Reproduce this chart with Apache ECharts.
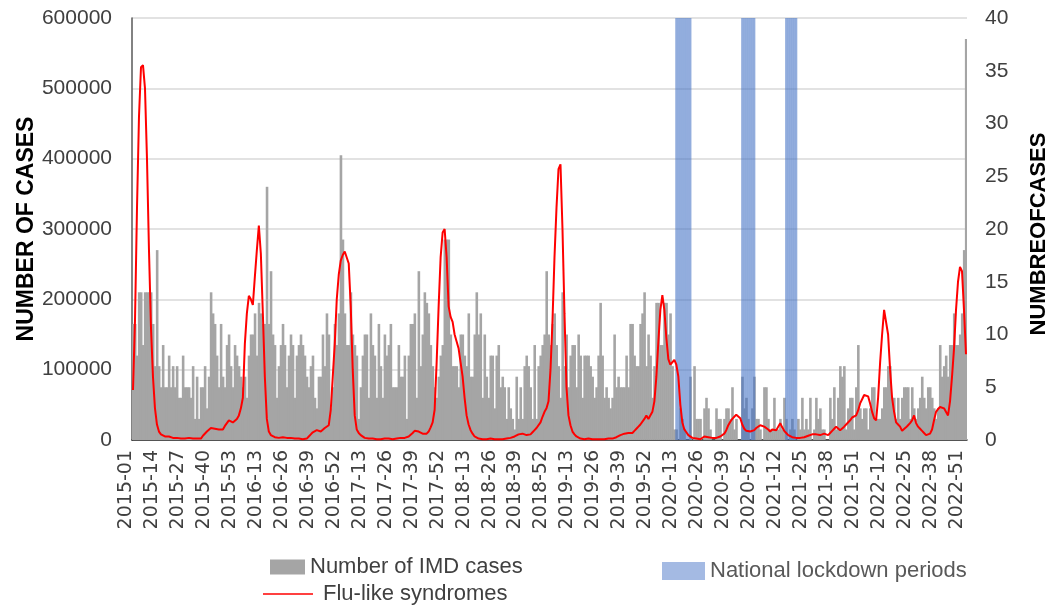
<!DOCTYPE html>
<html>
<head>
<meta charset="utf-8">
<script src="https://cdn.jsdelivr.net/npm/echarts@6/dist/echarts.min.js"></script>
<style>
  html, body { margin: 0; padding: 0; background: #fff; overflow: hidden; }
  #main { width: 1051px; height: 609px; }
</style>
</head>
<body>
<div id="main"></div>
<script>
// ISO weeks per year
var years = [2015, 2016, 2017, 2018, 2019, 2020, 2021, 2022];
var weeksPerYear = [53, 52, 52, 52, 52, 53, 52, 52];

// weekly number of IMD cases (right axis)
var imd2015 = [11, 11, 8, 14, 14, 9, 14, 14, 14, 14, 11, 7, 18, 7, 5, 9, 5, 5, 8, 5, 7, 5, 7, 4, 4, 8, 5, 5, 5, 4, 7, 2, 6, 2, 5, 5, 7, 3, 6, 14, 12, 11, 8, 5, 11, 6, 5, 9, 10, 7, 5, 9, 8];
var imd2016 = [7, 6, 5, 6, 4, 8, 10, 10, 12, 8, 13, 12, 11, 11, 24, 11, 16, 10, 9, 4, 7, 9, 11, 9, 5, 8, 10, 9, 4, 8, 9, 10, 9, 8, 6, 5, 7, 8, 4, 3, 6, 6, 10, 7, 12, 10, 3, 5, 11, 9, 12, 27];
var imd2017 = [19, 12, 9, 9, 14, 10, 9, 8, 2, 5, 8, 10, 10, 4, 12, 9, 8, 4, 11, 7, 4, 10, 8, 9, 11, 5, 5, 5, 9, 6, 6, 8, 2, 8, 11, 11, 12, 4, 16, 7, 10, 14, 13, 12, 9, 7, 5, 4, 6, 8, 9, 19];
var imd2018 = [19, 19, 10, 7, 7, 7, 5, 10, 10, 8, 7, 12, 6, 6, 10, 14, 10, 12, 4, 10, 6, 4, 8, 8, 3, 8, 9, 5, 6, 5, 2, 5, 3, 2, 1, 6, 2, 5, 2, 7, 8, 7, 5, 2, 9, 2, 7, 8, 9, 10, 16, 10];
var imd2019 = [9, 11, 12, 9, 7, 4, 14, 7, 10, 5, 8, 9, 9, 5, 10, 8, 4, 8, 8, 8, 7, 6, 4, 5, 8, 13, 8, 4, 5, 4, 3, 4, 10, 5, 6, 5, 5, 5, 8, 5, 11, 11, 8, 7, 7, 11, 12, 14, 7, 10, 8, 4];
var imd2020 = [7, 13, 13, 9, 9, 13, 13, 10, 12, 7, 1, 1, 0, 3, 2, 1, 0, 0, 6, 0, 7, 2, 2, 2, 0, 3, 4, 3, 1, 0, 0, 3, 2, 2, 0, 2, 3, 3, 2, 5, 1, 2, 0, 0, 6, 3, 4, 2, 0, 3, 6, 2, 2];
var imd2021 = [1, 0, 5, 5, 2, 1, 1, 4, 1, 1, 2, 1, 4, 2, 0, 1, 2, 1, 0, 2, 1, 4, 1, 2, 1, 4, 0, 1, 4, 2, 3, 1, 1, 0, 0, 4, 2, 5, 1, 4, 7, 6, 7, 1, 3, 4, 4, 1, 5, 9, 3, 2];
var imd2022 = [3, 3, 1, 3, 5, 5, 2, 2, 2, 3, 5, 5, 7, 7, 4, 4, 2, 4, 2, 4, 5, 5, 5, 2, 5, 3, 2, 3, 4, 6, 4, 3, 5, 5, 4, 3, 2, 3, 9, 6, 7, 8, 6, 9, 9, 12, 9, 9, 10, 12, 18, 38];

// weekly flu-like syndromes (left axis)
var flu2015 = [71000, 170000, 330000, 460000, 530000, 533000, 500000, 400000, 270000, 160000, 90000, 45000, 22000, 12000, 8000, 6000, 5000, 4000, 5000, 4000, 3000, 4000, 3000, 3000, 2000, 3000, 2000, 2000, 3000, 2000, 2000, 1000, 2000, 1000, 2000, 6000, 8000, 12000, 13000, 17000, 19000, 16000, 14000, 15000, 13000, 15000, 20000, 24000, 28000, 27000, 25000, 24000, 30000];
var flu2016 = [35000, 45000, 60000, 137000, 180000, 205000, 200000, 192000, 232000, 270000, 305000, 265000, 180000, 90000, 30000, 12000, 7000, 5000, 4000, 4000, 3000, 3000, 4000, 3000, 3000, 2000, 3000, 2000, 2000, 1000, 2000, 2000, 1000, 2000, 2000, 5000, 8000, 11000, 13000, 14000, 13000, 12000, 14000, 17000, 19000, 21000, 43000, 90000, 137000, 200000, 235000, 255000];
var flu2017 = [263000, 268000, 268000, 251000, 190000, 100000, 35000, 15000, 10000, 7000, 5000, 3000, 2000, 2000, 1000, 2000, 1000, 1000, 2000, 1000, 2000, 2000, 3000, 2000, 2000, 1000, 2000, 2000, 2000, 3000, 2000, 3000, 4000, 5000, 7000, 10000, 13000, 13000, 12000, 12000, 9000, 7000, 9000, 12000, 18000, 25000, 43000, 110000, 190000, 260000, 295000, 300000];
var flu2018 = [260000, 190000, 175000, 168000, 150000, 140000, 130000, 110000, 90000, 60000, 35000, 22000, 14000, 9000, 5000, 3000, 2000, 2000, 1000, 2000, 1000, 1000, 2000, 1000, 1000, 2000, 1000, 2000, 1000, 1000, 2000, 2000, 3000, 4000, 5000, 7000, 8000, 8000, 9000, 8000, 7000, 7000, 8000, 11000, 14000, 17000, 19000, 25000, 33000, 40000, 45000, 55000];
var flu2019 = [100000, 170000, 260000, 330000, 385000, 392000, 300000, 180000, 75000, 35000, 21000, 12000, 8000, 5000, 3000, 2000, 2000, 1000, 1000, 2000, 1000, 1000, 2000, 1000, 1000, 1000, 2000, 1000, 1000, 2000, 2000, 2000, 3000, 4000, 5000, 7000, 8000, 9000, 9000, 10000, 9000, 10000, 13000, 16000, 19000, 22000, 24000, 30000, 35000, 30000, 28000, 40000];
var flu2020 = [55000, 90000, 140000, 185000, 206000, 185000, 145000, 115000, 107000, 109000, 114000, 107000, 90000, 50000, 25000, 15000, 11000, 7000, 5000, 3000, 2000, 2000, 1000, 1000, 2000, 5000, 6000, 4000, 4000, 3000, 3000, 3000, 4000, 5000, 7000, 9000, 14000, 21000, 26000, 30000, 33000, 36000, 38000, 31000, 22000, 16000, 13000, 12000, 12000, 12000, 14000, 17000, 19000];
var flu2021 = [21000, 20000, 19000, 17000, 15000, 12000, 15000, 17000, 14000, 12000, 24000, 18000, 13000, 10000, 7000, 5000, 4000, 4000, 3000, 2000, 3000, 3000, 4000, 5000, 6000, 7000, 8000, 9000, 8000, 7000, 7000, 8000, 9000, 8000, 7000, 10000, 13000, 16000, 19000, 17000, 14000, 16000, 19000, 22000, 24000, 28000, 32000, 34000, 35000, 42000, 52000, 58000];
var flu2022 = [64000, 66000, 62000, 52000, 40000, 31000, 28000, 60000, 110000, 150000, 185000, 187000, 150000, 100000, 60000, 40000, 25000, 22000, 19000, 13000, 15000, 18000, 21000, 24000, 28000, 35000, 24000, 19000, 16000, 13000, 10000, 7000, 7000, 9000, 15000, 28000, 40000, 44000, 47000, 45000, 45000, 47000, 35000, 55000, 90000, 130000, 185000, 225000, 246000, 240000, 185000, 122000];

// national lockdown periods (first and last week), drawn full height
var lockdownPeriods = [["2020-12", "2020-19"], ["2020-45", "2020-51"], ["2021-14", "2021-19"]];
var lockdownHeight = 40;

var categories = [];
years.forEach(function(y, k) {
  for (var w = 1; w <= weeksPerYear[k]; w++) {
    categories.push(y + "-" + (w < 10 ? "0" + w : "" + w));
  }
});

var imdCases = [].concat(imd2015, imd2016, imd2017, imd2018, imd2019, imd2020, imd2021, imd2022);
var fluCases = [].concat(flu2015, flu2016, flu2017, flu2018, flu2019, flu2020, flu2021, flu2022);
var lockdownData = categories.map(function(c) {
  var inside = lockdownPeriods.some(function(p) { return c >= p[0] && c <= p[1]; });
  return inside ? lockdownHeight : "-";
});

var font = "Liberation Sans, Arial, sans-serif";
var myChart = echarts.init(document.getElementById("main"));
var option = {
  animation: false,
  backgroundColor: "#ffffff",
  grid: { left: 132, right: 84, top: 18, bottom: 169, outerBoundsMode: "none", containLabel: false },
  graphic: [
    {
      type: "text", x: 27, y: 229, rotation: Math.PI / 2,
      style: {
        text: "NUMBER OF CASES", fill: "#000",
        font: "bold 23px Liberation Sans, Arial, sans-serif",
        align: "center", verticalAlign: "middle"
      }
    },
    {
      type: "text", x: 1039, y: 234, rotation: Math.PI / 2,
      style: {
        text: "NUMBREOFCASES", fill: "#000",
        font: "bold 22px Liberation Sans, Arial, sans-serif",
        align: "center", verticalAlign: "middle"
      }
    }
  ],
  legend: [
    {
      data: ["Number of IMD cases"],
      left: 265, top: 551,
      icon: "rect", itemWidth: 35, itemHeight: 15,
      selectedMode: false,
      textStyle: { fontFamily: font, fontSize: 22, color: "#404040" }
    },
    {
      data: [{ name: "National lockdown periods", itemStyle: { color: "#A4BAE3" } }],
      left: 657, top: 555,
      icon: "rect", itemWidth: 43, itemHeight: 18,
      selectedMode: false,
      textStyle: { fontFamily: font, fontSize: 22, color: "#595959" }
    },
    {
      data: ["Flu-like syndromes"],
      left: 258, top: 578,
      icon: "rect", itemWidth: 50, itemHeight: 1.5,
      selectedMode: false,
      textStyle: { fontFamily: font, fontSize: 22, color: "#404040", padding: [0, 0, 0, 5] }
    }
  ],
  xAxis: {
    type: "category",
    data: categories,
    boundaryGap: true,
    axisLine: { lineStyle: { color: "#262626", width: 1.5 } },
    axisTick: { show: false },
    axisLabel: {
      interval: 12,
      rotate: 90,
      verticalAlign: "bottom",
      lineHeight: 14,
      margin: 10,
      fontFamily: "DejaVu Sans, sans-serif",
      fontSize: 19,
      color: "#404040"
    }
  },
  yAxis: [
    {
      type: "value",
      min: 0, max: 600000, interval: 100000,
      axisLine: { show: true, lineStyle: { color: "#595959", width: 1.5 } },
      axisTick: { show: false },
      axisLabel: {
        margin: 20, fontFamily: font, fontSize: 21, color: "#404040",
        formatter: function(v) { return String(v); }
      },
      splitLine: { lineStyle: { color: "#D9D9D9", width: 1.5 } }
    },
    {
      type: "value",
      min: 0, max: 40, interval: 5,
      axisLine: { show: false },
      axisTick: { show: false },
      axisLabel: { margin: 18, fontFamily: font, fontSize: 21, color: "#404040" },
      splitLine: { show: false }
    }
  ],
  series: [
    {
      name: "Number of IMD cases",
      type: "bar",
      yAxisIndex: 1,
      data: imdCases,
      barWidth: 2.6,
      barGap: "-100%",
      itemStyle: { color: "#A5A5A5" }
    },
    {
      name: "Flu-like syndromes",
      type: "line",
      yAxisIndex: 0,
      data: fluCases,
      symbol: "none",
      lineStyle: { color: "#FF0000", width: 2 },
      itemStyle: { color: "#FF0000" }
    },
    {
      name: "National lockdown periods",
      type: "bar",
      yAxisIndex: 1,
      data: lockdownData,
      barWidth: 2.2,
      barGap: "-100%",
      itemStyle: { color: "rgba(68, 114, 196, 0.58)" }
    }
  ]
};
myChart.setOption(option);
</script>
</body>
</html>
